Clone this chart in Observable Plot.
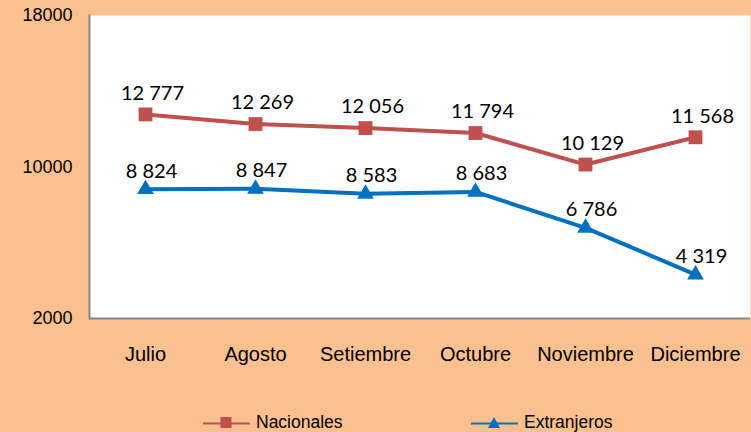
<!DOCTYPE html>
<html>
<head>
<meta charset="utf-8">
<script src="https://cdn.jsdelivr.net/npm/d3@7"></script>
<script src="https://cdn.jsdelivr.net/npm/@observablehq/plot@0.6"></script>
<style>
  html, body { margin: 0; padding: 0; background: #FAC090; }
  #wrap { width: 751px; height: 432px; position: relative; overflow: hidden; background: #FAC090; }
  #legend { position: absolute; top: 390px; left: 0; width: 751px; height: 42px;
            font-family: "Liberation Sans", Arial, sans-serif; font-size: 17.5px; color: #000; }
  .item { position: absolute; top: 32px; display: flex; align-items: center; transform: translateY(-50%); }
  .item svg { display: block; margin-right: 6px; }
</style>
</head>
<body>
<div id="wrap"><div id="chart"></div><div id="legend"></div></div>
<script>
const months = ["Julio", "Agosto", "Setiembre", "Octubre", "Noviembre", "Diciembre"];
const nacionales = [12777, 12269, 12056, 11794, 10129, 11568];
const extranjeros = [8824, 8847, 8583, 8683, 6786, 4319];
const yTicks = [2000, 10000, 18000];
const seriesNames = ["Nacionales", "Extranjeros"];
const seriesColors = ["#C0504D", "#0070C0"];

const fmt = d3.formatLocale({decimal: ",", thousands: " ", grouping: [3], currency: ["", ""]}).format(",d");

const nac = months.map((m, i) => ({month: m, value: nacionales[i]}));
const ext = months.map((m, i) => ({month: m, value: extranjeros[i]}));

const chart = Plot.plot({
  width: 751,
  height: 390,
  marginLeft: 89,
  marginRight: 1,
  marginTop: 15,
  marginBottom: 72,
  style: {background: "transparent", fontFamily: "'Liberation Sans', Arial, sans-serif", fontSize: "18px", color: "#000", overflow: "visible"},
  x: {type: "point", domain: months, padding: 0.5, label: null},
  y: {domain: [2000, 18000], label: null},
  marks: [
    Plot.frame({fill: "white", stroke: null}),
    Plot.axisX({tickSize: 0, tickPadding: 28, label: null, fontSize: 20}),
    Plot.axisY({ticks: yTicks, tickSize: 0, tickPadding: 17, label: null, fontSize: 18, tickFormat: d => String(d)}),
    Plot.ruleY([2000], {stroke: "#868686", strokeWidth: 2}),
    Plot.frame({anchor: "left", stroke: "#868686", strokeWidth: 2}),
    Plot.line(nac, {x: "month", y: "value", stroke: seriesColors[0], strokeWidth: 4}),
    Plot.line(ext, {x: "month", y: "value", stroke: seriesColors[1], strokeWidth: 4}),
    Plot.dot(nac, {x: "month", y: "value", symbol: "square", r: 7.8, fill: seriesColors[0], stroke: null}),
    Plot.dot(ext, {x: "month", y: "value", symbol: "triangle", r: 6.2, fill: seriesColors[1], stroke: null}),
    Plot.text(nac, {x: "month", y: "value", text: d => fmt(d.value), dy: -21, dx: 7, fontFamily: "Lato, 'Open Sans', sans-serif", fontSize: 20, fill: "#000"}),
    Plot.text(ext, {x: "month", y: "value", text: d => fmt(d.value), dy: -18, dx: 6, fontFamily: "Lato, 'Open Sans', sans-serif", fontSize: 20, fill: "#000"})
  ]
});
document.getElementById("chart").appendChild(chart);

// Legend
const legend = document.getElementById("legend");
const lefts = [203, 471];
seriesNames.forEach((name, i) => {
  const item = document.createElement("div");
  item.className = "item";
  item.style.left = lefts[i] + "px";
  const marker = i === 0
    ? `<rect x="17.5" y="1.5" width="11" height="11" fill="${seriesColors[i]}"/>`
    : `<path d="M23,1.5 L29,12.5 L17,12.5 Z" fill="${seriesColors[i]}"/>`;
  item.innerHTML = `<svg width="47" height="14"><line x1="0" x2="47" y1="8" y2="8" stroke="${seriesColors[i]}" stroke-width="2"/>${marker}</svg><span>${name}</span>`;
  legend.appendChild(item);
});
</script>
</body>
</html>
